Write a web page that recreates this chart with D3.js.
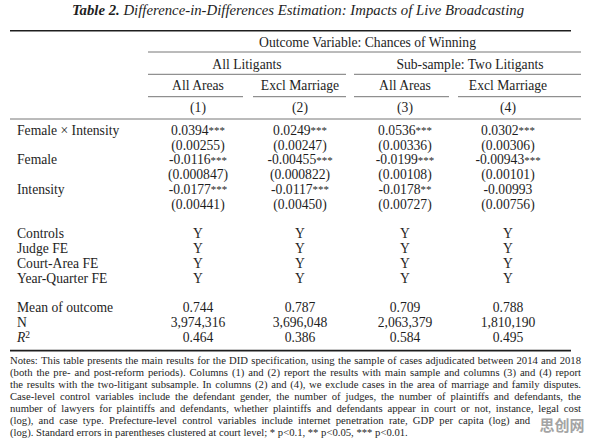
<!DOCTYPE html>
<html><head><meta charset="utf-8">
<script src="https://cdn.jsdelivr.net/npm/d3@7"></script>
<style>
html,body{margin:0;padding:0;background:#fff;}
svg{display:block;}
text{font-family:"Liberation Serif","Times New Roman",serif;fill:#1e1e1e;}
</style></head>
<body>
<svg id="c" width="596" height="438"></svg>
<script>
// ---------- data ----------
const titleBold = "Table 2.";
const titleRest = "Difference-in-Differences Estimation: Impacts of Live Broadcasting";
const outcomeLabel = "Outcome Variable: Chances of Winning";
const groupLabels = ["All Litigants", "Sub-sample: Two Litigants"];
const subHeaders = ["All Areas", "Excl Marriage", "All Areas", "Excl Marriage"];
const colNums = ["(1)", "(2)", "(3)", "(4)"];
const varLabels = ["Female \u00d7 Intensity", "Female", "Intensity"];
const coefs = [
  ["0.0394", "0.0249", "0.0536", "0.0302"],
  ["-0.0116", "-0.00455", "-0.0199", "-0.00943"],
  ["-0.0177", "-0.0117", "-0.0178", "-0.00993"]
];
const stars = [
  ["***", "***", "***", "***"],
  ["***", "***", "***", "***"],
  ["***", "***", "**", ""]
];
const stdErrs = [
  ["0.00255", "0.00247", "0.00336", "0.00306"],
  ["0.000847", "0.000822", "0.00108", "0.00101"],
  ["0.00441", "0.00450", "0.00727", "0.00756"]
];
const fixedLabels = ["Controls", "Judge FE", "Court-Area FE", "Year-Quarter FE"];
const fixedVals = [["Y","Y","Y","Y"],["Y","Y","Y","Y"],["Y","Y","Y","Y"],["Y","Y","Y","Y"]];
const statLabels = ["Mean of outcome", "N", "R2"];
const statVals = [
  ["0.744", "0.787", "0.709", "0.788"],
  ["3,974,316", "3,696,048", "2,063,379", "1,810,190"],
  ["0.464", "0.386", "0.584", "0.495"]
];
const noteLines = [
  "Notes: This table presents the main results for the DID specification, using the sample of cases adjudicated between 2014 and 2018",
  "(both the pre- and post-reform periods). Columns (1) and (2) report the results with main sample and columns (3) and (4) report",
  "the results with the two-litigant subsample. In columns (2) and (4), we exclude cases in the area of marriage and family disputes.",
  "Case-level control variables include the defendant gender, the number of judges, the number of plaintiffs and defendants, the",
  "number of lawyers for plaintiffs and defendants, whether plaintiffs and defendants appear in court or not, instance, legal cost",
  "(log), and case type.  Prefecture-level control variables include internet penetration rate, GDP per capita (log) and [population]",
  "(log). Standard errors in parentheses clustered at court level; * p<0.1, ** p<0.05, *** p<0.01."
];
const watermark = "思创网";

// ---------- layout ----------
const svg = d3.select("#c");
const left = 10, right = 571, ruleRight = 581, noteRight = 581, labelX = 17;
const x = d3.scaleOrdinal().domain(colNums).range([198, 300, 405, 508]);
const spanL = d3.scaleOrdinal().domain(colNums).range([148, 253, 354, 458]);
const spanR = d3.scaleOrdinal().domain(colNums).range([243, 346, 449, 581]);
const rowY = d3.scaleLinear().domain([0, 1]).range([130, 144.8]);
const ink = "#1e1e1e";

function measure(str, size, style) {
  const t = svg.append("text").attr("font-size", size).attr("font-style", style || null).text(str);
  const w = t.node().getComputedTextLength();
  t.remove();
  return w;
}
function fitSize(str, target, base, style) {
  return base * target / measure(str, base, style);
}
const fs = fitSize(outcomeLabel, 217, 13);
const noteFs = fitSize(noteLines[0], 560, 10.5);

// Title
const tfs = fitSize(titleBold + " " + titleRest, 452, 13, "italic");
const title = svg.append("text").attr("x", 298).attr("y", 10).attr("dy", "0.35em")
  .attr("text-anchor", "middle").attr("font-size", tfs).attr("font-style", "italic");
title.append("tspan").attr("font-weight", "bold").text(titleBold + " ");
title.append("tspan").text(titleRest);

// Rules
function rule(x1, x2, y, w, c) {
  svg.append("line").attr("x1", x1).attr("x2", x2).attr("y1", y).attr("y2", y)
    .attr("stroke", c || ink).attr("stroke-width", w);
}
rule(left, right, 30.7, 1.6);
rule(148, ruleRight, 52, 0.9, "#666");
rule(spanL(colNums[0]), spanR(colNums[1]), 74.3, 0.9, "#666");
rule(spanL(colNums[2]), spanR(colNums[3]), 74.3, 0.9, "#666");
colNums.forEach(c => rule(spanL(c), spanR(c), 96.7, 0.9, "#666"));
rule(left, ruleRight, 119, 0.9, "#666");
rule(left, right, 350.6, 1.6);

// Header text
function ctext(str, cx, cy, size) {
  return svg.append("text").attr("x", cx).attr("y", cy).attr("dy", "0.35em")
    .attr("text-anchor", "middle").attr("font-size", size || fs).text(str);
}
ctext(outcomeLabel, 367.5, 42.5);
ctext(groupLabels[0], (spanL(colNums[0]) + spanR(colNums[1])) / 2, 64);
ctext(groupLabels[1], 470, 64);
svg.selectAll("text.sub").data(subHeaders).join("text").attr("class", "sub")
  .attr("x", (d, i) => x(colNums[i])).attr("y", 85.7).attr("dy", "0.35em")
  .attr("text-anchor", "middle").attr("font-size", fs).text(d => d);
svg.selectAll("text.num").data(colNums).join("text").attr("class", "num")
  .attr("x", d => x(d)).attr("y", 107.7).attr("dy", "0.35em")
  .attr("text-anchor", "middle").attr("font-size", fs).text(d => d);

function ltext(str, ry) {
  return svg.append("text").attr("x", labelX).attr("y", rowY(ry)).attr("dy", "0.35em")
    .attr("font-size", fs).text(str);
}

// Coefficient rows
varLabels.forEach((lab, r) => {
  ltext(lab, 2 * r);
  coefs[r].forEach((v, j) => {
    const t = svg.append("text").attr("x", x(colNums[j])).attr("y", rowY(2 * r)).attr("dy", "0.35em")
      .attr("text-anchor", "middle").attr("font-size", fs);
    t.append("tspan").text(v);
    if (stars[r][j]) t.append("tspan").attr("font-size", fs * 0.8).attr("dy", "-0.05em").text(stars[r][j]);
    svg.append("text").attr("x", x(colNums[j])).attr("y", rowY(2 * r + 1)).attr("dy", "0.35em")
      .attr("text-anchor", "middle").attr("font-size", fs).text("(" + stdErrs[r][j] + ")");
  });
});

// Fixed effects rows
fixedLabels.forEach((lab, r) => {
  ltext(lab, 7 + r);
  fixedVals[r].forEach((v, j) => {
    svg.append("text").attr("x", x(colNums[j])).attr("y", rowY(7 + r)).attr("dy", "0.35em")
      .attr("text-anchor", "middle").attr("font-size", fs).text(v);
  });
});

// Stats rows
statLabels.forEach((lab, r) => {
  if (lab === "R2") {
    const t = svg.append("text").attr("x", labelX).attr("y", rowY(12 + r)).attr("dy", "0.35em").attr("font-size", fs);
    t.append("tspan").attr("font-style", "italic").text("R");
    t.append("tspan").attr("font-size", fs * 0.7).attr("dy", "-0.45em").text("2");
  } else {
    ltext(lab, 12 + r);
  }
  statVals[r].forEach((v, j) => {
    svg.append("text").attr("x", x(colNums[j])).attr("y", rowY(12 + r)).attr("dy", "0.35em")
      .attr("text-anchor", "middle").attr("font-size", fs).text(v);
  });
});

// Notes (justified); a word in [brackets] is hidden under the watermark (space kept)
const noteY = d3.scaleLinear().domain([0, 1]).range([360, 372]);
const sp = measure("a a", noteFs) - measure("aa", noteFs);
noteLines.forEach((line, i) => {
  const words = line.split(/\s+/);
  const t = svg.append("text").attr("y", noteY(i)).attr("dy", "0.35em").attr("font-size", noteFs);
  const widths = words.map(w => measure(w.replace(/[\[\]]/g, ""), noteFs));
  const total = d3.sum(widths);
  const last = i === noteLines.length - 1;
  const gap = last ? sp : (noteRight - left - total) / (words.length - 1);
  let cx = left;
  words.forEach((w, k) => {
    if (!/^\[.*\]$/.test(w)) t.append("tspan").attr("x", cx).text(w);
    cx += widths[k] + gap;
  });
});

// Watermark
svg.append("text").attr("x", 562).attr("y", 431).attr("text-anchor", "middle")
  .attr("font-size", 15).attr("font-weight", "bold")
  .style("font-family", "'Noto Sans CJK SC', sans-serif").style("fill", "#a4a4a4")
  .text(watermark);
</script>
</body></html>
